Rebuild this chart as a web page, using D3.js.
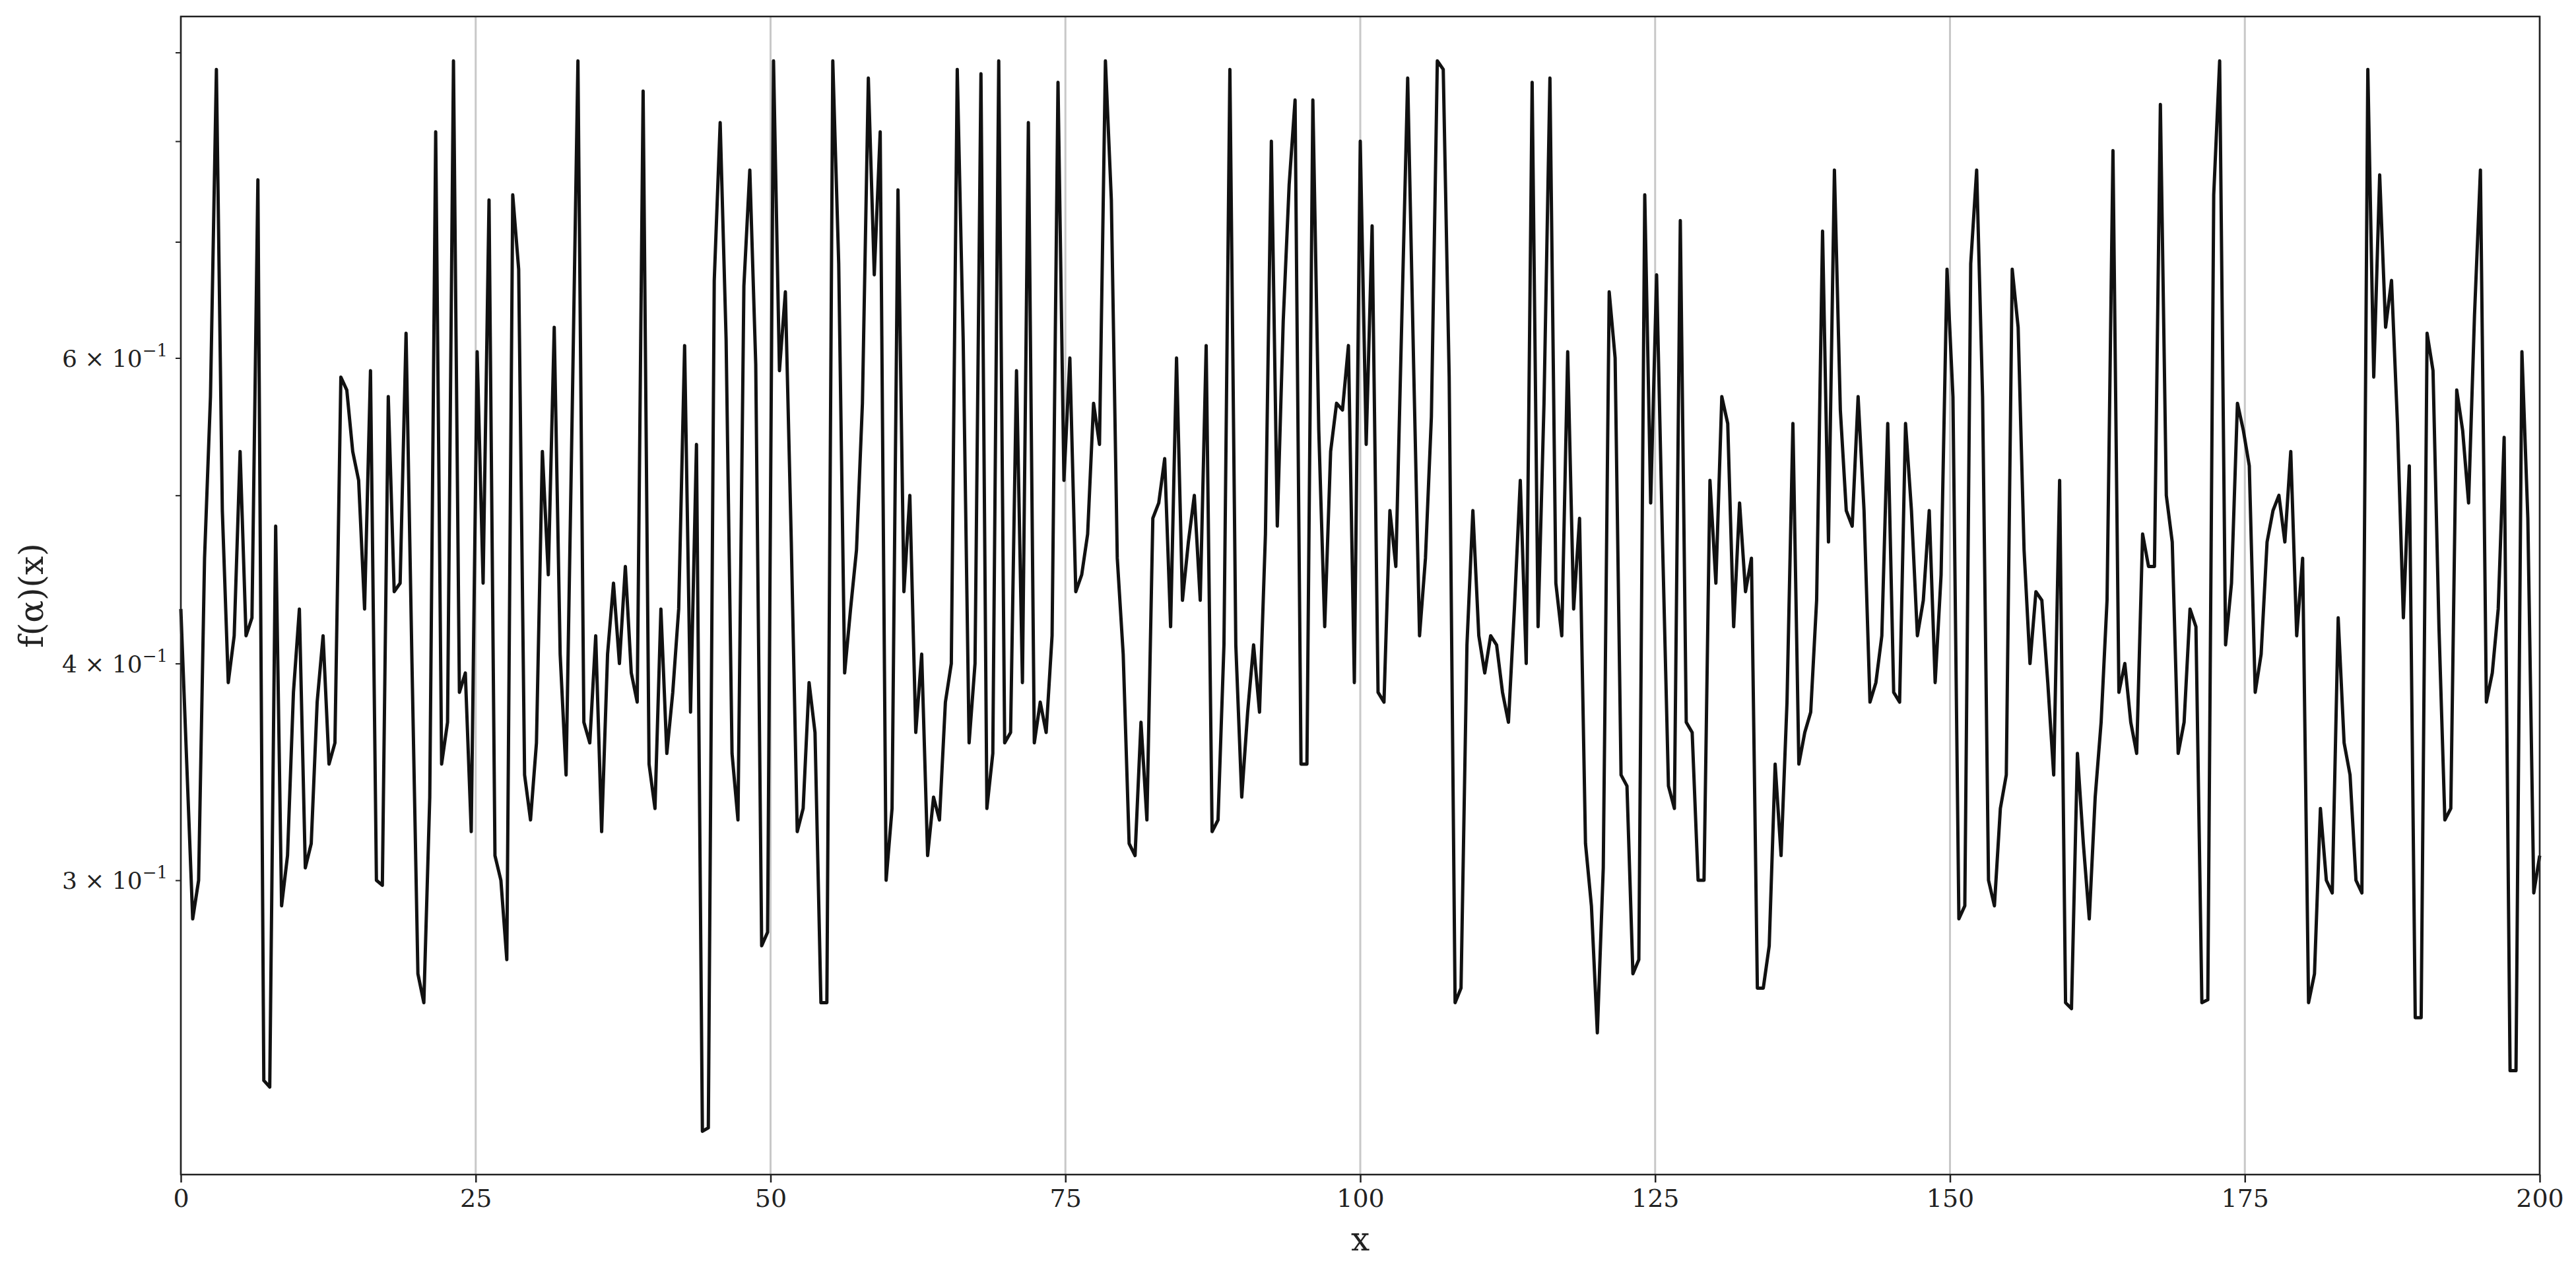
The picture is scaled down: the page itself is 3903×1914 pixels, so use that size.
<!DOCTYPE html>
<html><head><meta charset="utf-8">
<script src="https://cdn.jsdelivr.net/npm/d3@7"></script>
<style>body{margin:0;background:#fff}</style>
</head><body>
<script>
const values = [
0.43,0.35,0.285,0.30,0.46,0.57,0.88,0.49,0.39,0.415,
0.53,0.415,0.425,0.76,0.23,0.228,0.48,0.29,0.31,0.385,
0.43,0.305,0.315,0.38,0.415,0.35,0.36,0.585,0.575,0.53,
0.51,0.43,0.59,0.30,0.298,0.57,0.44,0.445,0.62,0.40,
0.265,0.255,0.335,0.81,0.35,0.37,0.89,0.385,0.395,0.32,
0.605,0.445,0.74,0.31,0.30,0.27,0.745,0.675,0.345,0.325,
0.36,0.53,0.45,0.625,0.405,0.345,0.55,0.89,0.37,0.36,
0.415,0.32,0.405,0.445,0.40,0.455,0.395,0.38,0.855,0.35,
0.33,0.43,0.355,0.385,0.43,0.61,0.375,0.535,0.215,0.216,
0.665,0.82,0.615,0.355,0.325,0.66,0.77,0.595,0.275,0.28,
0.89,0.59,0.655,0.47,0.32,0.33,0.39,0.365,0.255,0.255,
0.89,0.68,0.395,0.43,0.465,0.565,0.87,0.67,0.81,0.30,
0.33,0.75,0.44,0.50,0.365,0.405,0.31,0.335,0.325,0.38,
0.40,0.88,0.615,0.36,0.40,0.875,0.33,0.355,0.89,0.36,
0.365,0.59,0.39,0.82,0.36,0.38,0.365,0.415,0.865,0.51,
0.60,0.44,0.45,0.475,0.565,0.535,0.89,0.74,0.46,0.405,
0.315,0.31,0.37,0.325,0.485,0.495,0.525,0.42,0.60,0.435,
0.47,0.50,0.435,0.61,0.32,0.325,0.41,0.88,0.41,0.335,
0.375,0.41,0.375,0.475,0.80,0.48,0.63,0.755,0.845,0.35,
0.35,0.845,0.545,0.42,0.53,0.565,0.56,0.61,0.39,0.80,
0.535,0.715,0.385,0.38,0.49,0.455,0.63,0.87,0.595,0.415,
0.46,0.555,0.89,0.88,0.585,0.255,0.26,0.41,0.49,0.415,
0.395,0.415,0.41,0.385,0.37,0.43,0.51,0.40,0.865,0.42,
0.565,0.87,0.445,0.415,0.605,0.43,0.485,0.315,0.29,0.245,
0.305,0.655,0.60,0.345,0.34,0.265,0.27,0.745,0.495,0.67,
0.47,0.34,0.33,0.72,0.37,0.365,0.30,0.30,0.51,0.445,
0.57,0.55,0.42,0.495,0.44,0.46,0.26,0.26,0.275,0.35,
0.31,0.38,0.55,0.35,0.365,0.375,0.435,0.71,0.47,0.77,
0.56,0.49,0.48,0.57,0.49,0.38,0.39,0.415,0.55,0.385,
0.38,0.55,0.49,0.415,0.435,0.49,0.39,0.45,0.675,0.57,
0.285,0.29,0.68,0.77,0.57,0.30,0.29,0.33,0.345,0.675,
0.625,0.465,0.40,0.44,0.435,0.39,0.345,0.51,0.255,0.253,
0.355,0.315,0.285,0.335,0.37,0.435,0.79,0.385,0.40,0.37,
0.355,0.475,0.455,0.455,0.84,0.50,0.47,0.355,0.37,0.43,
0.42,0.255,0.256,0.745,0.89,0.41,0.445,0.565,0.545,0.52,
0.385,0.405,0.47,0.49,0.50,0.47,0.53,0.415,0.46,0.255,
0.265,0.33,0.30,0.295,0.425,0.36,0.345,0.30,0.295,0.88,
0.585,0.765,0.625,0.665,0.55,0.425,0.52,0.25,0.25,0.62,
0.59,0.42,0.325,0.33,0.575,0.545,0.495,0.635,0.77,0.38,
0.395,0.43,0.54,0.233,0.233,0.605,0.485,0.295,0.31
];
const xTicks = [0,25,50,75,100,125,150,175,200];
const yMajor = [{v:0.6,m:"6"},{v:0.4,m:"4"},{v:0.3,m:"3"}];
const yMinor = [0.3,0.4,0.5,0.6,0.7,0.8,0.9];
const xLabel = "x", yLabel = "f(α)(x)";

const W=3903,H=1914, L=274,R=3848,T=25,B=1780;
const N=values.length;
const data = values.map((v,i)=>({x:i*200/(N-1), y:v}));
const x=d3.scaleLinear().domain([0,200]).range([L,R]);
const y=d3.scaleLog().domain([0.203,0.944]).range([B,T]);
const svg=d3.select("body").append("svg").attr("width",W).attr("height",H);
const font="DejaVu Serif";
// grid
svg.append("g").selectAll("line").data(xTicks).join("line")
 .attr("x1",d=>x(d)).attr("x2",d=>x(d)).attr("y1",T).attr("y2",B)
 .attr("stroke","#c8c8c8").attr("stroke-width",3);
// line
svg.append("path").datum(data).attr("fill","none").attr("stroke","#111").attr("stroke-width",5)
 .attr("stroke-linejoin","round")
 .attr("d",d3.line().x(d=>x(d.x)).y(d=>y(d.y)));
// frame
svg.append("rect").attr("x",L).attr("y",T).attr("width",R-L).attr("height",B-T)
 .attr("fill","none").attr("stroke","#222").attr("stroke-width",2.5);
// x axis
const xa=svg.append("g").attr("transform",`translate(0,${B})`)
 .call(d3.axisBottom(x).tickValues(xTicks).tickSize(12).tickSizeOuter(0).tickPadding(10));
xa.select(".domain").remove();
xa.selectAll("line").attr("stroke","#222").attr("stroke-width",2.5);
xa.selectAll("text").attr("font-family",font).attr("font-size",38).attr("fill","#222");
// y axis ticks
const ya=svg.append("g").attr("transform",`translate(${L},0)`)
 .call(d3.axisLeft(y).tickValues(yMinor).tickSize(8).tickFormat(""));
ya.select(".domain").remove();
ya.selectAll("line").attr("stroke","#222").attr("stroke-width",2);
const lab=svg.append("g").selectAll("text").data(yMajor).join("text")
 .attr("x",L-20).attr("y",d=>y(d.v)+13).attr("text-anchor","end")
 .attr("font-family",font).attr("font-size",36).attr("fill","#222");
lab.append("tspan").text(d=>d.m+" × 10");
lab.append("tspan").attr("dy",-16).attr("font-size",26).text("−1");
svg.append("text").attr("x",(L+R)/2).attr("y",1895).attr("text-anchor","middle")
 .attr("font-family",font).attr("font-size",50).attr("fill","#222").text(xLabel);
svg.append("text").attr("transform",`translate(65,${(T+B)/2}) rotate(-90)`).attr("text-anchor","middle")
 .attr("font-family",font).attr("font-size",50).attr("fill","#222").text(yLabel);
</script>
</body></html>
